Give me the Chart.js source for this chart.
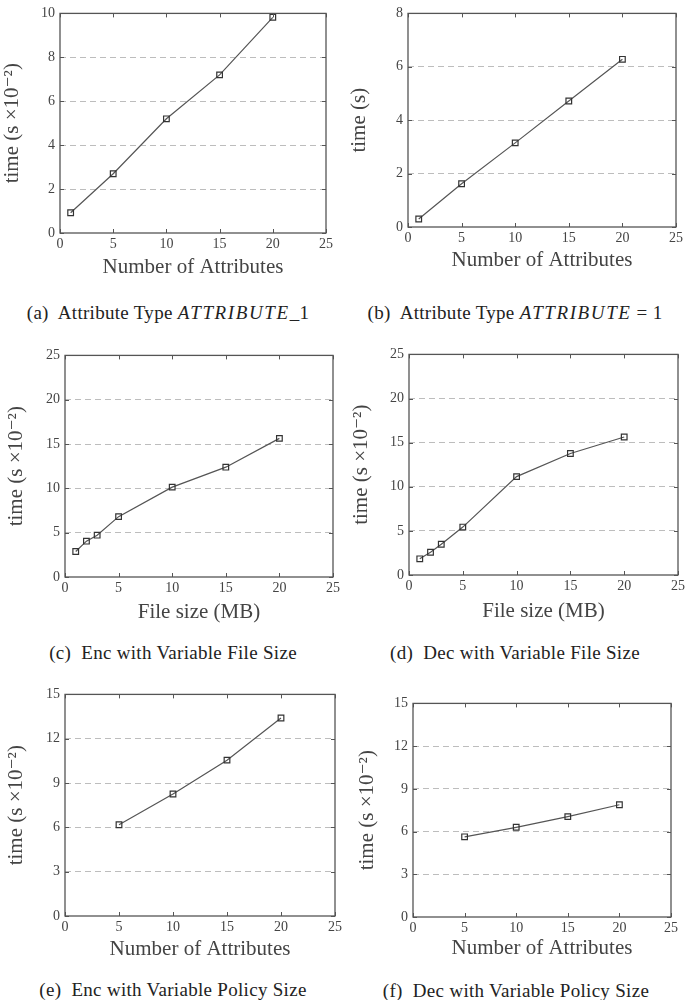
<!DOCTYPE html>
<html>
<head>
<meta charset="utf-8">
<script src="https://cdn.jsdelivr.net/npm/chart.js@4"></script>
<style>
  html, body { margin: 0; padding: 0; background: #fff; }
  body { width: 685px; height: 1000px; position: relative; overflow: hidden; }
  canvas { position: absolute; }
  .cap { position: absolute; font-family: "Liberation Serif", serif; font-size: 19px; color: #222;
         letter-spacing: 0.3px; white-space: nowrap; transform: translate(-50%, -50%); }
  .cap i { letter-spacing: 1.6px; }
</style>
</head>
<body>
<div class="cap" style="left:168px; top:313px">(a)&nbsp; Attribute Type <i>ATTRIBUTE</i>_1</div>
<div class="cap" style="left:515px; top:313px">(b)&nbsp; Attribute Type <i>ATTRIBUTE</i> = 1</div>
<div class="cap" style="left:173px; top:653px">(c)&nbsp; Enc with Variable File Size</div>
<div class="cap" style="left:515px; top:653px">(d)&nbsp; Dec with Variable File Size</div>
<div class="cap" style="left:173px; top:990px">(e)&nbsp; Enc with Variable Policy Size</div>
<div class="cap" style="left:516px; top:991px">(f)&nbsp; Dec with Variable Policy Size</div>
<script>
// data
const attrCounts = [1, 5, 10, 15, 20];
const attr1Time = [0.92, 2.7, 5.2, 7.2, 9.82];
const attrEq1Time = [0.3, 1.62, 3.15, 4.72, 6.28];
const fileSizes = [1, 2, 3, 5, 10, 15, 20];
const encFileTime = [2.88, 4.04, 4.72, 6.81, 10.14, 12.39, 15.64];
const decFileTime = [1.83, 2.58, 3.48, 5.43, 11.15, 13.77, 15.64];
const policySizes = [5, 10, 15, 20];
const encPolicyTime = [6.18, 8.26, 10.55, 13.4];
const decPolicyTime = [5.63, 6.3, 7.05, 7.88];

const xMax = 25, xStep = 5;
const yMaxes = [10, 8, 25, 25, 15, 15];
const ySteps = [2, 2, 5, 5, 3, 3];
const xTitles = ['Number of Attributes', 'Number of Attributes', 'File size (MB)', 'File size (MB)',
                 'Number of Attributes', 'Number of Attributes'];
const yTitles = ['time (s ×10⁻²)', 'time (s)', 'time (s ×10⁻²)', 'time (s ×10⁻²)',
                 'time (s ×10⁻²)', 'time (s ×10⁻²)'];
const xSeries = [attrCounts, attrCounts, fileSizes, fileSizes, policySizes, policySizes];
const ySeries = [attr1Time, attrEq1Time, encFileTime, decFileTime, encPolicyTime, decPolicyTime];

// plot-area boxes in page pixels: left, right, top, bottom, x-title centre y, y-title centre x
const boxes = [
  [60, 326, 12, 233, 267, 13],
  [408, 676, 5, 227, 260, 360],
  [65, 333, 354, 577, 612, 17],
  [409, 678, 353, 575, 611, 362],
  [65, 335, 693, 916, 949, 17],
  [413, 671, 702, 917, 948, 368]
];

const serif = '"Liberation Serif", "DejaVu Serif", serif';
const titleSize = 21, titleLH = 1.2;
const half = titleSize * titleLH / 2;
const ink = '#444';

// frame + inward ticks like pgfplots
const framePlugin = {
  id: 'frame',
  afterDatasetsDraw(chart) {
    const {ctx, chartArea: a, scales} = chart;
    ctx.save();
    ctx.strokeStyle = '#555';
    ctx.lineWidth = 1;
    scales.x.ticks.forEach(t => {
      const px = Math.round(scales.x.getPixelForValue(t.value)) + 0.5;
      ctx.beginPath();
      ctx.moveTo(px, a.bottom); ctx.lineTo(px, a.bottom - 4);
      ctx.moveTo(px, a.top); ctx.lineTo(px, a.top + 4);
      ctx.stroke();
    });
    scales.y.ticks.forEach(t => {
      const py = Math.round(scales.y.getPixelForValue(t.value)) + 0.5;
      ctx.beginPath();
      ctx.moveTo(a.left, py); ctx.lineTo(a.left + 4, py);
      ctx.moveTo(a.right, py); ctx.lineTo(a.right - 4, py);
      ctx.stroke();
    });
    ctx.lineWidth = 1.3;
    ctx.strokeRect(a.left, a.top, a.right - a.left, a.bottom - a.top);
    ctx.restore();
  }
};

boxes.forEach((b, i) => {
  const [L, R, T, B, xTitleY, yTitleX] = b;
  const cx = Math.max(0, Math.round(yTitleX - half));
  const cy = Math.max(0, T - 12);
  const cw = R + 14 - cx;
  const ch = Math.round(xTitleY + half) - cy;
  const yMax = yMaxes[i];

  const canvas = document.createElement('canvas');
  canvas.style.left = cx + 'px';
  canvas.style.top = cy + 'px';
  canvas.style.width = cw + 'px';
  canvas.style.height = ch + 'px';
  canvas.width = cw; canvas.height = ch;
  document.body.appendChild(canvas);

  new Chart(canvas, {
    type: 'line',
    data: {
      datasets: [{
        data: xSeries[i].map((x, k) => ({x, y: ySeries[i][k]})),
        borderColor: '#555',
        borderWidth: 1.2,
        pointStyle: 'rect',
        pointRadius: 4,
        pointBorderWidth: 1.2,
        pointBorderColor: '#333',
        pointBackgroundColor: 'rgba(255,255,255,0)',
        tension: 0
      }]
    },
    options: {
      responsive: false,
      animation: false,
      layout: { padding: { left: 0, right: 14, top: T - cy, bottom: 0 } },
      plugins: { legend: { display: false }, tooltip: { enabled: false } },
      scales: {
        x: {
          type: 'linear', min: 0, max: xMax,
          ticks: { stepSize: xStep, color: ink, padding: 3, font: { family: serif, size: 14 } },
          grid: { display: false, drawTicks: false },
          border: { display: false },
          title: { display: true, text: xTitles[i], color: ink, padding: 0,
                   font: { family: serif, size: titleSize, lineHeight: titleLH } },
          afterFit(s) { s.height = Math.round(xTitleY + half) - B; }
        },
        y: {
          type: 'linear', min: 0, max: yMax,
          ticks: { stepSize: ySteps[i], color: ink, padding: 5, font: { family: serif, size: 14 } },
          grid: {
            drawTicks: false,
            color: c => (c.tick.value === 0 || c.tick.value === yMax) ? 'rgba(0,0,0,0)' : '#bdbdbd',
            lineWidth: 1
          },
          border: { display: false, dash: [6, 4] },
          title: { display: true, text: yTitles[i], color: ink, padding: 0,
                   font: { family: serif, size: titleSize, lineHeight: titleLH } },
          afterFit(s) { s.width = L - cx; }
        }
      }
    },
    plugins: [framePlugin]
  });
});
</script>
</body>
</html>
